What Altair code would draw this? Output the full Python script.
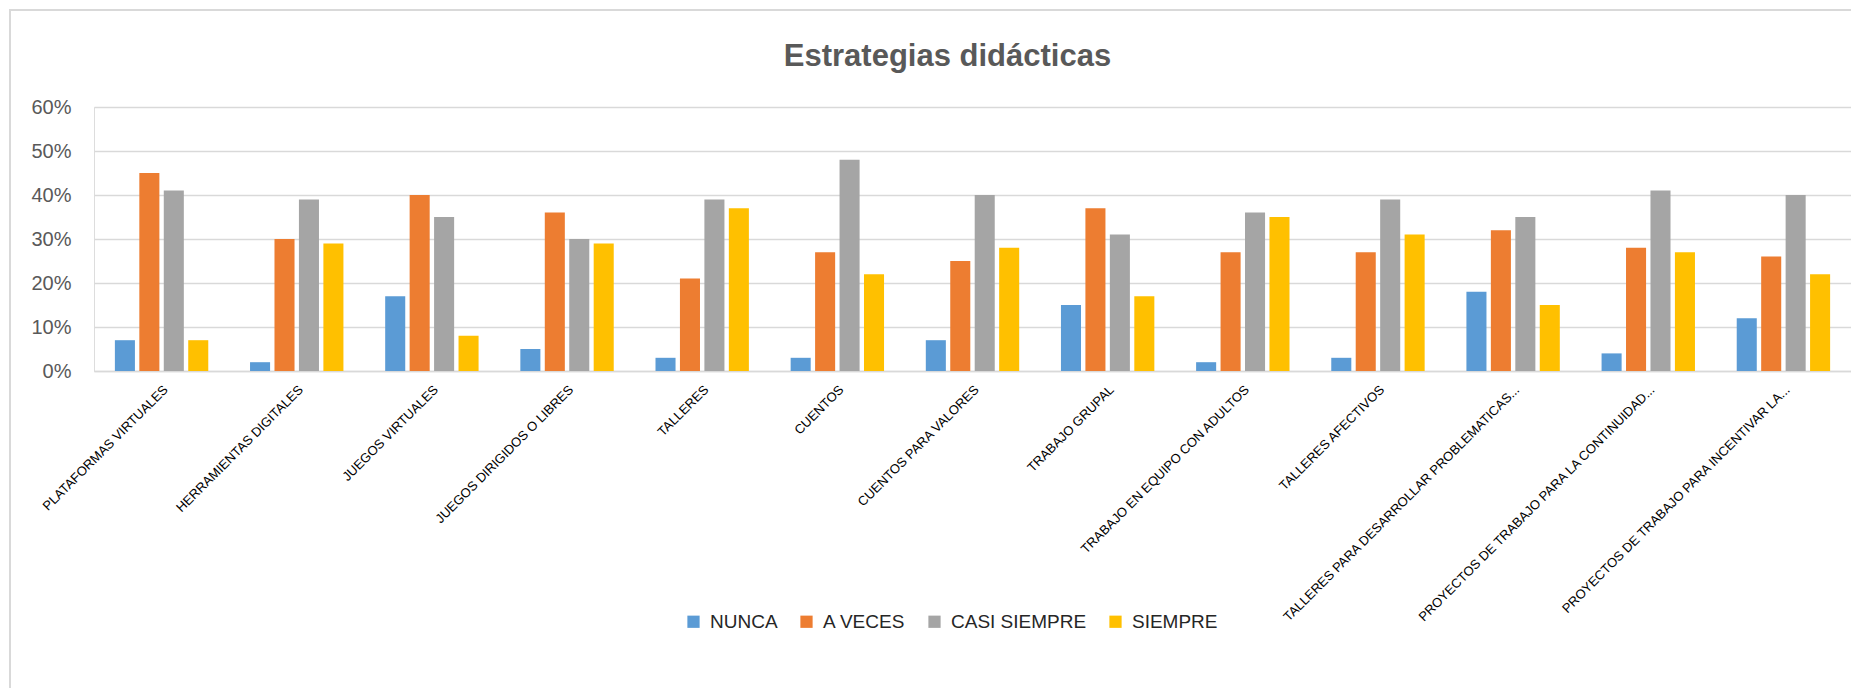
import altair as alt
import pandas as pd

categorias = [
    "PLATAFORMAS VIRTUALES",
    "HERRAMIENTAS DIGITALES",
    "JUEGOS VIRTUALES",
    "JUEGOS DIRIGIDOS O LIBRES",
    "TALLERES",
    "CUENTOS",
    "CUENTOS PARA VALORES",
    "TRABAJO GRUPAL",
    "TRABAJO EN EQUIPO CON ADULTOS",
    "TALLERES AFECTIVOS",
    "TALLERES PARA DESARROLLAR PROBLEMATICAS...",
    "PROYECTOS DE TRABAJO PARA LA CONTINUIDAD...",
    "PROYECTOS DE TRABAJO PARA INCENTIVAR LA...",
]
series = ["NUNCA", "A VECES", "CASI SIEMPRE", "SIEMPRE"]
colores = ["#5B9BD5", "#ED7D31", "#A5A5A5", "#FFC000"]

nunca = [0.07, 0.02, 0.17, 0.05, 0.03, 0.03, 0.07, 0.15, 0.02, 0.03, 0.18, 0.04, 0.12]
a_veces = [0.45, 0.30, 0.40, 0.36, 0.21, 0.27, 0.25, 0.37, 0.27, 0.27, 0.32, 0.28, 0.26]
casi_siempre = [0.41, 0.39, 0.35, 0.30, 0.39, 0.48, 0.40, 0.31, 0.36, 0.39, 0.35, 0.41, 0.40]
siempre = [0.07, 0.29, 0.08, 0.29, 0.37, 0.22, 0.28, 0.17, 0.35, 0.31, 0.15, 0.27, 0.22]

valores = [nunca, a_veces, casi_siempre, siempre]
rows = []
for s, vals in zip(series, valores):
    for c, v in zip(categorias, vals):
        rows.append({"categoria": c, "serie": s, "valor": v})
df = pd.DataFrame(rows)

FONT = "Liberation Sans"

# decorative outer chart-area border (Excel style)
borde = alt.Chart(pd.DataFrame({"b": [0]})).mark_rect(
    fill=None, stroke="#D9D9D9", strokeWidth=2
).encode(
    x=alt.value(-84), x2=alt.value(3000), y=alt.value(-97), y2=alt.value(3000)
)

barras = alt.Chart(df).mark_bar().encode(
    x=alt.X(
        "categoria:N",
        sort=categorias,
        title=None,
        scale=alt.Scale(paddingInner=0.309, paddingOuter=0.1545),
        axis=alt.Axis(
            labelAngle=-45,
            labelAlign="right",
            labelBaseline="top",
            labelPadding=12,
            labelFontSize=13,
            labelFont=FONT,
            labelColor="#000000",
            labelLimit=1000,
            ticks=False,
            tickSize=0,
            domain=True,
            domainColor="#D9D9D9",
            domainWidth=1.5,
            grid=False,
        ),
    ),
    xOffset=alt.XOffset(
        "serie:N", sort=series, scale=alt.Scale(paddingInner=0.18, paddingOuter=0)
    ),
    y=alt.Y(
        "valor:Q",
        title=None,
        scale=alt.Scale(domain=[0, 0.6], nice=False),
        axis=alt.Axis(
            format=".0%",
            values=[0, 0.1, 0.2, 0.3, 0.4, 0.5, 0.6],
            labelFontSize=20,
            labelFont=FONT,
            labelColor="#595959",
            labelPadding=23,
            ticks=False,
            tickSize=0,
            domain=False,
            grid=True,
            gridColor="#D9D9D9",
            gridWidth=1.5,
        ),
    ),
    color=alt.Color(
        "serie:N",
        sort=series,
        scale=alt.Scale(domain=series, range=colores),
        legend=alt.Legend(
            title=None,
            orient="none",
            direction="horizontal",
            legendX=590,
            legendY=505,
            symbolType="square",
            symbolSize=150,
            symbolStrokeWidth=0,
            labelFontSize=19,
            labelFont=FONT,
            labelColor="#262626",
            labelOffset=7,
            columnPadding=19,
        ),
    ),
)

chart = alt.layer(borde, barras).properties(
    width=1757,
    height=264,
    autosize=alt.AutoSizeParams(type="none"),
    padding={"left": 86, "top": 99, "right": 0, "bottom": 317},
    title=alt.TitleParams(
        "Estrategias didácticas",
        font=FONT,
        fontSize=31,
        fontWeight="bold",
        color="#595959",
        anchor="middle",
        baseline="alphabetic",
        dx=-25,
        offset=-88,
    ),
).configure_view(stroke=None).configure(background="white")

chart.save("out.html", embed_options={"renderer": "svg", "actions": False})
